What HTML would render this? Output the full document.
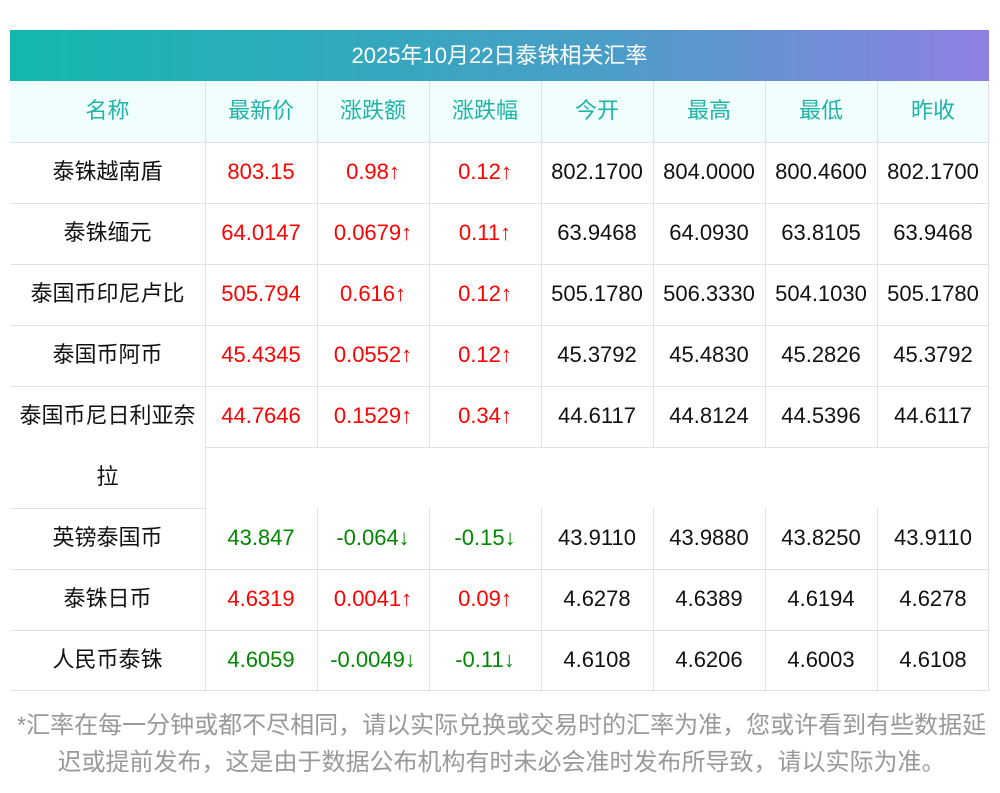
<!DOCTYPE html><html><head><meta charset="utf-8"><style>
body{margin:0;width:1000px;height:793px;background:#fff;position:relative;font-family:"Liberation Sans","Noto Sans CJK SC",sans-serif;overflow:hidden}
.t{position:absolute;left:10px;top:30px;width:979px;height:51px;background:linear-gradient(90deg,#12b8ad,#4a9ec8 60%,#8e80e2);color:#fff;font-size:22px;text-align:center;line-height:51px}
.h{position:absolute;left:10px;top:81px;width:979px;height:61px;background:#f0fffe}
.l{position:absolute background:#e0e0ea}
.l{position:absolute;background:#e0e0ea}
.c{position:absolute;text-align:center;font-size:22px;height:61px;line-height:60px;color:#111;white-space:nowrap}
.hd{color:#20b3a8}.r{color:#f00}.g{color:#080}
.f{position:absolute;left:0px;top:707px;width:1003px;font-size:24px;line-height:37px;color:#999;text-align:center;white-space:nowrap}
</style></head><body>
<div class="t">2025年10月22日泰铢相关汇率</div>
<div class="h"></div>
<div id="g"></div>
<div class="f">*汇率在每一分钟或都不尽相同，请以实际兑换或交易时的汇率为准，您或许看到有些数据延<br>迟或提前发布，这是由于数据公布机构有时未必会准时发布所导致，请以实际为准。</div>
<script>
var X=[10,205,317,429,541,653,765,877,989];
var rows=[["名称","最新价","涨跌额","涨跌幅","今开","最高","最低","昨收"],
["泰铢越南盾","803.15","0.98↑","0.12↑","802.1700","804.0000","800.4600","802.1700"],
["泰铢缅元","64.0147","0.0679↑","0.11↑","63.9468","64.0930","63.8105","63.9468"],
["泰国币印尼卢比","505.794","0.616↑","0.12↑","505.1780","506.3330","504.1030","505.1780"],
["泰国币阿币","45.4345","0.0552↑","0.12↑","45.3792","45.4830","45.2826","45.3792"],
["泰国币尼日利亚奈","44.7646","0.1529↑","0.34↑","44.6117","44.8124","44.5396","44.6117"],
["英镑泰国币","43.847","-0.064↓","-0.15↓","43.9110","43.9880","43.8250","43.9110"],
["泰铢日币","4.6319","0.0041↑","0.09↑","4.6278","4.6389","4.6194","4.6278"],
["人民币泰铢","4.6059","-0.0049↓","-0.11↓","4.6108","4.6206","4.6003","4.6108"]];
var Y=[81,142,203,264,325,386,508,569,630];
var h="";
rows.forEach(function(r,i){r.forEach(function(v,j){var cl="c";if(i==0)cl+=" hd";else if(j>0&&j<4)cl+=(v.indexOf("↓")>=0||(j==1&&(i==6||i==8)))?" g":" r";
h+='<div class="'+cl+'" style="left:'+X[j]+'px;top:'+Y[i]+'px;width:'+(X[j+1]-X[j])+'px">'+v+'</div>';});});
h+='<div class="c" style="left:10px;top:447px;width:195px">拉</div>';
[142,203,264,325,386,569,630,690].forEach(function(y){h+='<div class="l" style="left:10px;top:'+y+'px;width:979px;height:1px"></div>'});
h+='<div class="l" style="left:10px;top:508px;width:195px;height:1px"></div>';
h+='<div class="l" style="left:205px;top:447px;width:784px;height:1px"></div>';
h+='<div class="l" style="left:205px;top:81px;width:1px;height:609px"></div>';
h+='<div class="l" style="left:988px;top:81px;width:1px;height:609px"></div>';
[317,429,541,653,765,877].forEach(function(x){h+='<div class="l" style="left:'+x+'px;top:81px;width:1px;height:366px"></div><div class="l" style="left:'+x+'px;top:508px;width:1px;height:182px"></div>'});
document.getElementById("g").innerHTML=h;
</script>
</body></html>
